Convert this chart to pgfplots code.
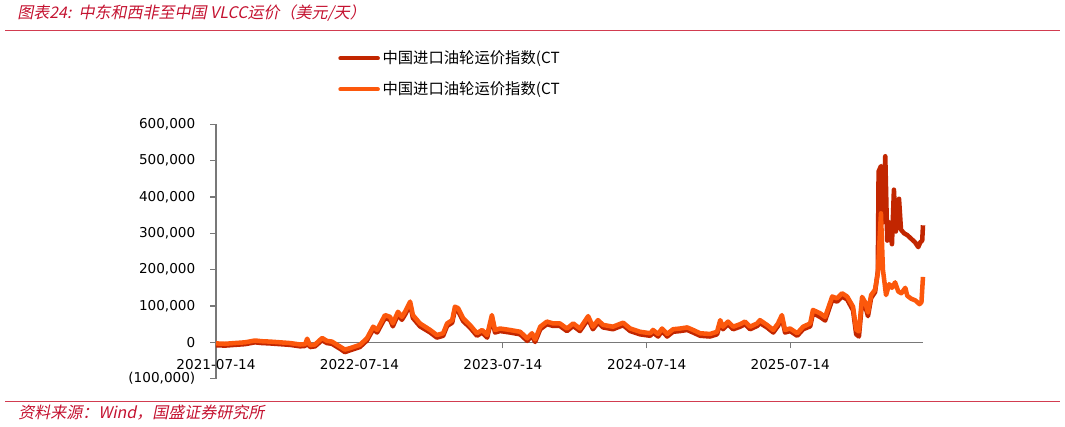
\documentclass[border=0pt]{standalone}
\usepackage{fontspec}
\usepackage{pgfplots}
\pgfplotsset{compat=1.18}
\usepackage{pgfplotstable}
\newfontfamily\cjk{Noto Sans CJK SC}
\newfontfamily\cjkit[FakeSlant=0.2]{Noto Sans CJK SC}
\newfontfamily\tickfont{DejaVu Sans}
\definecolor{darkred}{RGB}{194,38,0}
\definecolor{orng}{RGB}{252,88,12}
\definecolor{hdr}{RGB}{196,18,48}
\definecolor{rulec}{RGB}{210,60,80}
\definecolor{axgray}{RGB}{120,120,120}

\pgfplotstableread{
d v
0 -3000
23 -4000
48 -2000
74 0
99 5000
117 3000
137 2000
163 0
188 -2000
214 -6000
227 -5000
232 10000
239 -8000
252 -6000
270 12000
282 4000
295 2000
316 -12000
328 -20000
341 -16000
366 -7000
384 11000
400 43000
410 34000
430 75000
443 70000
450 52000
463 84000
473 70000
481 84000
494 112000
501 75000
519 52000
545 34000
562 20000
578 25000
588 52000
601 61000
608 98000
616 94000
629 66000
646 48000
664 25000
677 34000
690 20000
702 75000
710 34000
723 38000
748 34000
774 29000
792 11000
804 25000
812 8000
825 43000
842 57000
858 52000
875 52000
893 38000
909 52000
926 38000
947 72000
959 43000
972 61000
985 48000
1010 43000
1036 54000
1054 38000
1079 29000
1105 25000
1112 34000
1125 23000
1135 38000
1148 23000
1163 36000
1181 38000
1199 41000
1214 34000
1232 25000
1257 23000
1275 29000
1283 61000
1290 43000
1303 57000
1316 43000
1334 50000
1346 57000
1359 43000
1377 52000
1384 61000
1402 48000
1418 34000
1430 52000
1440 75000
1448 34000
1461 38000
1479 25000
1494 43000
1512 52000
1519 89000
1537 80000
1550 70000
1568 126000
1580 121000
1593 135000
1606 126000
1621 98000
1629 35000
1636 30000
1644 125000
1652 110000
1659 82000
1667 130000
1677 145000
1684 190000
1692 355000
1697 200000
1705 130000
1713 160000
1720 150000
1728 165000
1736 140000
1744 135000
1754 150000
1759 128000
1769 120000
1780 115000
1790 105000
1795 110000
1799 180000
}\orangedata

\pgfplotstableread{
d v
0 -8000
23 -9000
48 -7000
74 -5000
99 0
117 -2000
137 -3000
163 -5000
188 -7000
214 -11000
227 -10000
232 4000
239 -13000
252 -11000
270 6000
282 -2000
295 -4000
316 -18000
328 -27000
341 -22000
366 -13000
384 5000
400 36000
410 27000
430 67000
443 62000
450 44000
463 76000
473 62000
481 76000
494 104000
501 67000
519 44000
545 27000
562 13000
578 18000
588 45000
601 54000
608 90000
616 86000
629 58000
646 41000
664 18000
677 27000
690 13000
702 67000
710 27000
723 31000
748 27000
774 22000
792 4000
804 18000
812 1000
825 36000
842 50000
858 45000
875 45000
893 31000
909 45000
926 31000
947 64000
959 36000
972 54000
985 41000
1010 36000
1036 47000
1054 31000
1079 22000
1105 18000
1112 27000
1125 16000
1135 31000
1148 16000
1163 29000
1181 31000
1199 34000
1214 27000
1232 18000
1257 16000
1275 22000
1283 53000
1290 36000
1303 50000
1316 36000
1334 43000
1346 50000
1359 36000
1377 45000
1384 53000
1402 41000
1418 27000
1430 45000
1440 67000
1448 27000
1461 31000
1479 18000
1494 36000
1512 44000
1519 80000
1537 70000
1550 60000
1568 117000
1580 112000
1593 126000
1606 118000
1621 88000
1629 22000
1636 16000
1644 112000
1652 100000
1659 72000
1667 122000
1677 138000
1684 195000
1686 470000
1692 485000
1697 330000
1703 512000
1708 280000
1713 330000
1720 270000
1725 420000
1730 305000
1738 395000
1743 310000
1751 300000
1759 295000
1769 285000
1779 275000
1787 262000
1792 275000
1797 280000
1799 322000
}\darkdata

\begin{document}
\begin{tikzpicture}
\path[use as bounding box] (0pt,0pt) rectangle (798.75pt,319.5pt);
\draw[rulec, line width=0.75pt] (3.75pt,296.5pt) -- (795pt,296.5pt);
\draw[rulec, line width=0.75pt] (3.75pt,18.75pt) -- (795pt,18.75pt);
\node[anchor=west, inner sep=0pt, text=hdr, font=\cjkit\fontsize{12}{14}\selectfont] at (12.75pt,309.5pt) {图表24:\ \ 中东和西非至中国 VLCC运价（美元/天）};
\node[anchor=west, inner sep=0pt, text=hdr, font=\cjkit\fontsize{12}{14}\selectfont] at (13.5pt,10pt) {资料来源：Wind，国盛证券研究所};
\begin{axis}[
  at={(162pt,35.5pt)}, anchor=south west,
  scale only axis, width=530.25pt, height=190.8pt,
  xmin=0, xmax=1799, ymin=-100000, ymax=600000,
  axis x line*=middle, axis y line*=left,
  axis line style={axgray, line width=0.9pt},
  hide obscured x ticks=false, hide obscured y ticks=false,
  tick align=outside, major tick length=4.5pt,
  tick style={axgray, line width=0.9pt},
  xtick={0,365,730,1096,1461},
  xticklabels={2021-07-14,2022-07-14,2023-07-14,2024-07-14,2025-07-14},
  ytick={-100000,0,100000,200000,300000,400000,500000,600000},
  yticklabels={{(100,000)},{0},{100,000},{200,000},{300,000},{400,000},{500,000},{600,000}},
  scaled y ticks=false,
  ticklabel style={font=\tickfont\fontsize{10.2}{12}\selectfont, text=black},
  yticklabel style={xshift=-7.5pt},
  xticklabel style={yshift=-4.5pt},
  clip=false,
  legend style={at={(axis description cs:0.1726,1.30)}, anchor=north west, draw=none, fill=none,
    font=\cjk\fontsize{11.5}{13}\selectfont, row sep=8pt, inner sep=0pt},
  legend cell align=left,
  legend image code/.code={\draw[#1, line width=3.2pt, line cap=round] (0pt,0pt) -- (28pt,0pt);},
]
\addplot[darkred, line width=3.4pt, line join=round] table[x=d,y=v] {\darkdata};
\addlegendentry{中国进口油轮运价指数(CT}
\addplot[orng, line width=3.4pt, line join=round] table[x=d,y=v] {\orangedata};
\addlegendentry{中国进口油轮运价指数(CT}
\end{axis}
\end{tikzpicture}
\end{document}
